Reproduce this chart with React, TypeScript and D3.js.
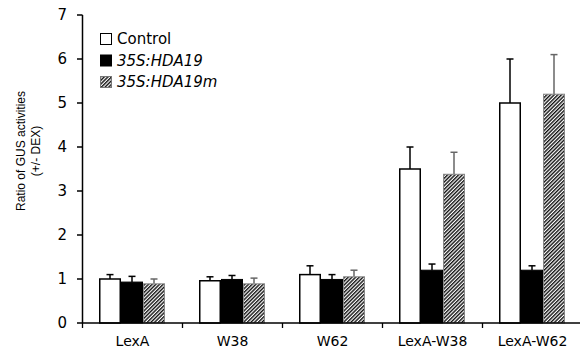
import React from "react";
import * as d3 from "d3";

const categories = ["LexA", "W38", "W62", "LexA-W38", "LexA-W62"];
const seriesNames = ["Control", "35S:HDA19", "35S:HDA19m"];
const controlValues = [1.0, 0.96, 1.1, 3.5, 5.0];
const controlErrors = [0.1, 0.09, 0.2, 0.5, 1.0];
const hda19Values = [0.93, 0.99, 0.99, 1.2, 1.2];
const hda19Errors = [0.13, 0.09, 0.11, 0.14, 0.1];
const hda19mValues = [0.89, 0.89, 1.05, 3.38, 5.2];
const hda19mErrors = [0.11, 0.13, 0.15, 0.5, 0.9];
const yTicks = [0, 1, 2, 3, 4, 5, 6, 7];

const W = 580;
const H = 351;

export default function App() {
  const x0 = d3.scaleBand<string>().domain(categories).range([82.5, 582.5]);
  const x1 = d3.scaleBand<string>().domain(seriesNames).range([16.5, 82.5]);
  const y = d3.scaleLinear().domain([0, 7]).range([323, 15]);

  const seriesData = [
    { name: seriesNames[0], values: controlValues, errors: controlErrors },
    { name: seriesNames[1], values: hda19Values, errors: hda19Errors },
    { name: seriesNames[2], values: hda19mValues, errors: hda19mErrors },
  ];

  const fillFor = (i: number) => (i === 0 ? "#fff" : i === 1 ? "#000" : "url(#hatch)");
  const strokeFor = (i: number) => (i === 0 ? "#000" : i === 1 ? "#000" : "#888");
  const errColor = (i: number) => (i === 2 ? "#666" : "#000");

  const font = "'DejaVu Sans', Verdana, sans-serif";
  const titleFont = "'Liberation Sans', Arial, sans-serif";

  return (
    <div style={{ position: "fixed", left: 0, top: 0 }}>
      <svg width={W} height={H} style={{ display: "block", background: "#fff" }}>
        <defs>
          <pattern id="hatch" patternUnits="userSpaceOnUse" width={2.6} height={2.6} patternTransform="rotate(45)">
            <rect width={2.6} height={2.6} fill="#fff" />
            <rect x={0} y={0} width={1.4} height={2.6} fill="#111" />
          </pattern>
        </defs>

        {/* bars */}
        {categories.map((c, ci) => (
          <g key={c} transform={`translate(${x0(c)},0)`}>
            {seriesData.map((s, si) => {
              const bx = x1(s.name)!;
              const bw = x1.bandwidth();
              const v = s.values[ci];
              const e = s.errors[ci];
              const cx = bx + bw / 2;
              return (
                <g key={s.name}>
                  <line x1={cx} x2={cx} y1={y(v)} y2={y(v + e)} stroke={errColor(si)} strokeWidth={1.5} />
                  <line x1={cx - 3.5} x2={cx + 3.5} y1={y(v + e)} y2={y(v + e)} stroke={errColor(si)} strokeWidth={1.5} />
                  <rect
                    x={bx + (si === 0 ? 0.75 : 0.5)}
                    y={y(v)}
                    width={bw - (si === 0 ? 1.5 : 1)}
                    height={y(0) - y(v)}
                    fill={fillFor(si)}
                    stroke={strokeFor(si)}
                    strokeWidth={si === 0 ? 1.5 : 1}
                  />
                </g>
              );
            })}
          </g>
        ))}

        {/* y axis */}
        <line x1={82.5} x2={82.5} y1={y(7)} y2={y(0)} stroke="#000" strokeWidth={1.5} />
        {yTicks.map((t) => (
          <g key={t}>
            <line x1={77} x2={82.5} y1={y(t)} y2={y(t)} stroke="#000" strokeWidth={1.5} />
            <text x={67} y={y(t)} dy="0.36em" textAnchor="end" fontFamily={font} fontSize={15} fill="#000">
              {t}
            </text>
          </g>
        ))}

        {/* x axis */}
        <line x1={82.5} x2={582} y1={y(0)} y2={y(0)} stroke="#000" strokeWidth={1.5} />
        {categories.map((c) => (
          <g key={c}>
            <line x1={x0(c)!} x2={x0(c)!} y1={y(0)} y2={y(0) + 5} stroke="#000" strokeWidth={1.3} />
            <text x={x0(c)! + x0.bandwidth() / 2} y={346} textAnchor="middle" fontFamily={font} fontSize={14} fill="#000">
              {c}
            </text>
          </g>
        ))}

        {/* y title */}
        <text transform="translate(25,151) rotate(-90)" textAnchor="middle" fontFamily={titleFont} fontSize={12} fill="#000">
          Ratio of GUS activities
        </text>
        <text transform="translate(40,151) rotate(-90)" textAnchor="middle" fontFamily={titleFont} fontSize={12} fill="#000">
          (+/- DEX)
        </text>

        {/* legend */}
        {seriesNames.map((n, i) => {
          const cy = 39 + i * 21.5;
          return (
            <g key={n}>
              <rect x={100.5} y={cy - 5.5} width={11} height={11} fill={fillFor(i)} stroke={i === 2 ? "#777" : "#000"} strokeWidth={1} />
              <text x={117} y={cy} dy="0.36em" fontFamily={font} fontSize={15} fontStyle={i === 0 ? "normal" : "italic"} fill="#000">
                {n}
              </text>
            </g>
          );
        })}
      </svg>
    </div>
  );
}
